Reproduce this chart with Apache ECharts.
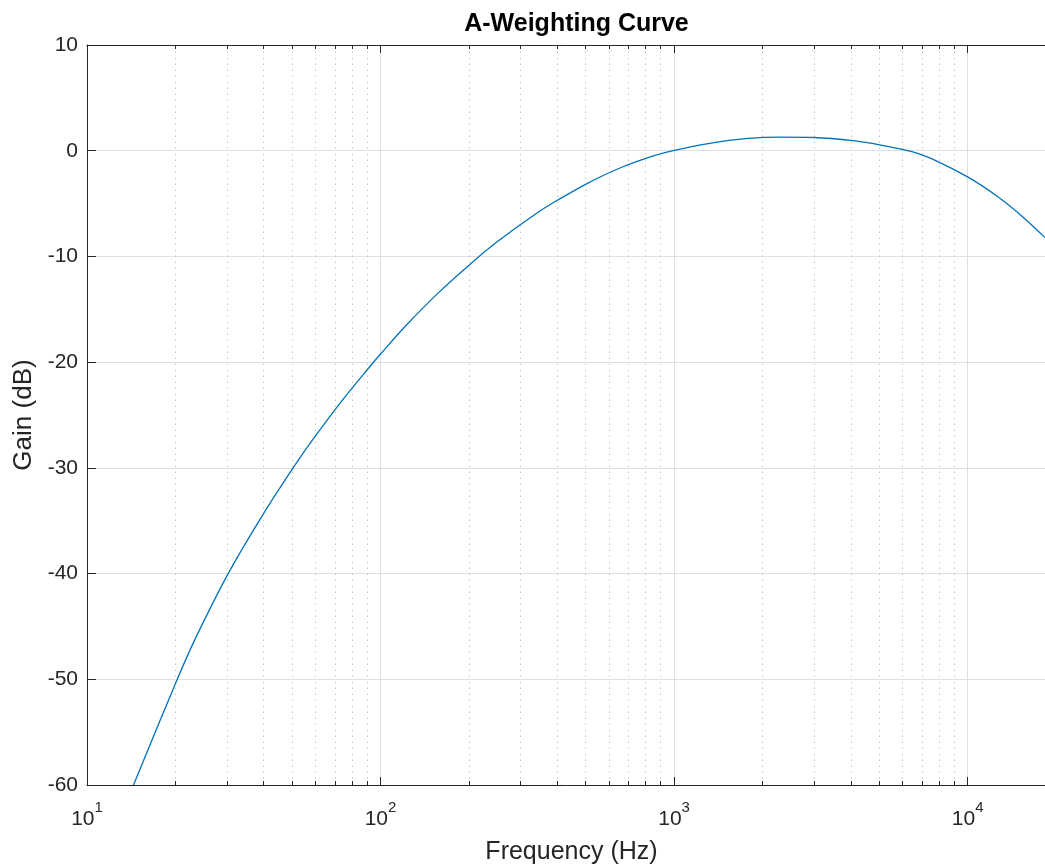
<!DOCTYPE html>
<html>
<head>
<meta charset="utf-8">
<script src="https://cdn.jsdelivr.net/npm/echarts@6/dist/echarts.min.js"></script>
<style>
html,body{margin:0;padding:0;background:#fff;}
#chart{width:1045px;height:867px;}
</style>
</head>
<body>
<div id="chart"></div>
<script>
// Data
const freqHz = [14.4, 20.2, 23.3, 30.2, 39.8, 50.3, 58.9, 74.5, 92, 100, 123, 157, 202, 249, 349, 412, 509, 660, 855, 1000, 1306, 1786, 2311, 3000, 4066, 5023, 6507, 7850, 10000, 12570, 15080, 18320, 20000];
const gainDb = [-60, -50.15, -46.25, -40.05, -34.4, -30.03, -27.29, -23.52, -20.41, -19.23, -16.44, -13.47, -10.73, -8.64, -5.71, -4.49, -3.06, -1.59, -0.47, 0.04, 0.68, 1.16, 1.29, 1.25, 0.95, 0.55, -0.12, -0.98, -2.48, -4.28, -6.03, -8.2, -9.3];
const xRange = [10, 20000];
const yTicks = [-60, -50, -40, -30, -20, -10, 0, 10];
const minorFreqs = [20,30,40,50,60,70,80,90,200,300,400,500,600,700,800,900,2000,3000,4000,5000,6000,7000,8000,9000];
const titleText = 'A-Weighting Curve';
const xName = 'Frequency (Hz)';
const yName = 'Gain (dB)';

const FONT = "'Liberation Sans', Arial, Helvetica, sans-serif";
const AX = '#262626';
const GRID = '#dfdfdf';

const yMin = yTicks[0], yMax = yTicks[yTicks.length - 1];
const tickLen = 0.38;

const markData = [];
minorFreqs.forEach(f => {
  markData.push({ xAxis: f, lineStyle: { color: '#c4c4c4', width: 1, type: [1.5, 4.5] } });
});
minorFreqs.forEach(f => {
  markData.push([{ coord: [f, yMin], lineStyle: { color: AX, width: 1, type: 'solid' } }, { coord: [f, yMin + tickLen] }]);
  markData.push([{ coord: [f, yMax], lineStyle: { color: AX, width: 1, type: 'solid' } }, { coord: [f, yMax - tickLen] }]);
});

function supLabel(v) {
  const e = Math.round(Math.log10(v));
  if (Math.abs(v - Math.pow(10, e)) > 1e-6 * v) return '';
  return '{b|10}{s|' + e + '}';
}

const chart = echarts.init(document.getElementById('chart'), null, { renderer: 'canvas' });
chart.setOption({
  animation: false,
  backgroundColor: '#ffffff',
  textStyle: { fontFamily: FONT },
  title: {
    text: titleText,
    left: 571.5,
    textAlign: 'center',
    top: 7,
    textStyle: { fontFamily: FONT, fontSize: 25, fontWeight: 'bold', color: '#000' }
  },
  grid: { left: 87, top: 45, width: 969, height: 740, containLabel: false, outerBoundsMode: 'none' },
  xAxis: [
    {
      type: 'log', logBase: 10, min: xRange[0], max: xRange[1], position: 'bottom',
      name: xName, nameLocation: 'middle', nameGap: 55,
      nameTextStyle: { fontFamily: FONT, fontSize: 25, color: AX },
      axisLine: { show: true, onZero: false, lineStyle: { color: AX, width: 1 } },
      axisTick: { show: true, inside: true, length: 8, lineStyle: { color: AX, width: 1 } },
      axisLabel: {
        show: true, margin: 15, color: AX, formatter: supLabel, showMaxLabel: false,
        rich: {
          b: { fontFamily: FONT, fontSize: 21, color: AX, lineHeight: 30, verticalAlign: 'bottom' },
          s: { fontFamily: FONT, fontSize: 15, color: AX, lineHeight: 15, verticalAlign: 'top' }
        }
      },
      splitLine: { show: true, lineStyle: { color: GRID, width: 1 } },
      minorTick: { show: false }
    },
    {
      type: 'log', logBase: 10, min: xRange[0], max: xRange[1], position: 'top',
      axisLine: { show: true, onZero: false, lineStyle: { color: AX, width: 1 } },
      axisTick: { show: true, inside: true, length: 8, lineStyle: { color: AX, width: 1 } },
      axisLabel: { show: false },
      splitLine: { show: false }
    }
  ],
  yAxis: [
    {
      type: 'value', min: yMin, max: yMax, interval: 10, position: 'left',
      name: yName, nameLocation: 'middle', nameGap: 43, nameRotate: 90,
      nameTextStyle: { fontFamily: FONT, fontSize: 26, color: AX },
      axisLine: { show: true, onZero: false, lineStyle: { color: AX, width: 1 } },
      axisTick: { show: true, inside: true, length: 9, lineStyle: { color: AX, width: 1 } },
      axisLabel: { show: true, margin: 9, fontFamily: FONT, fontSize: 21, color: AX },
      splitLine: { show: true, lineStyle: { color: GRID, width: 1 } }
    }
  ],
  series: [
    {
      type: 'line',
      xAxisIndex: 0, yAxisIndex: 0,
      data: freqHz.map((f, i) => [f, gainDb[i]]),
      showSymbol: false,
      smooth: 0.35,
      clip: true,
      lineStyle: { color: '#0072BD', width: 1.3 },
      itemStyle: { color: '#0072BD' },
      markLine: {
        silent: true, symbol: ['none', 'none'], animation: false,
        label: { show: false },
        emphasis: { disabled: true },
        data: markData
      },
      z: 5
    }
  ]
});
</script>
</body>
</html>
